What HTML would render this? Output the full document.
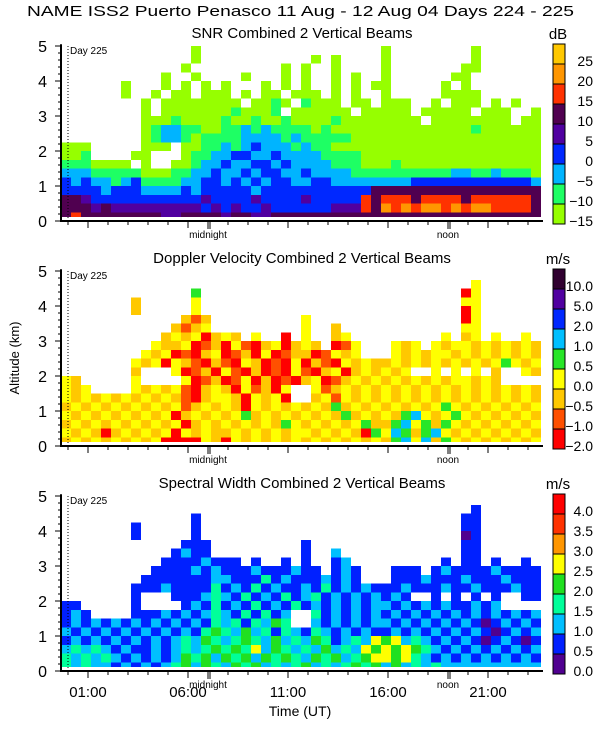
<!DOCTYPE html>
<html><head><meta charset="utf-8"><style>
html,body{margin:0;padding:0;background:#fff;width:600px;height:750px;overflow:hidden}
svg{display:block;font-family:"Liberation Sans",sans-serif}
</style></head><body>
<svg id="chart" width="600" height="750" viewBox="0 0 600 750" xmlns="http://www.w3.org/2000/svg">
<text x="27" y="16" font-size="15" textLength="547" lengthAdjust="spacingAndGlyphs">NAME ISS2 Puerto Penasco  11 Aug - 12 Aug 04 Days 224 - 225</text>
<text transform="translate(19,358) rotate(-90)" text-anchor="middle" font-size="13">Altitude (km)</text>
<text x="300" y="716" text-anchor="middle" font-size="14">Time (UT)</text>
<g id="panels"></g>
</svg>
<script>
// ---- data (rows listed from top altitude 4.75-5 km down to 0.15-0.25 km; 48 half-hour columns) ----
const panelTitles = ["SNR Combined 2 Vertical Beams","Doppler Velocity Combined 2 Vertical Beams","Spectral Width Combined 2 Vertical Beams"];
const panelUnits = ["dB","m/s","m/s"];
const snrTicks = ["25","20","15","10","5","0","-5","-10","-15"];
const dopTicks = ["10.0","5.0","2.0","1.0","0.5","0.0","-0.5","-1.0","-2.0"];
const swTicks = ["4.0","3.5","3.0","2.5","2.0","1.5","1.0","0.5","0.0"];
const snrColors = ["#96ff00","#1eff64","#00b4ff","#0028ff","#5000a0","#500050","#ff3200","#ff9600","#ffc800"];
const dopColors = ["#ff0000","#ff5000","#ffc800","#ffff00","#28e628","#00bfff","#0028ff","#5000a0","#300030"];
const swColors = ["#500090","#0020ff","#00bfff","#00ff9a","#20e020","#ffff00","#ff9600","#ff3200","#ff0000"];
const altTicks = [0,1,2,3,4,5];
const hourLabels = ["01:00","06:00","11:00","16:00","21:00"];
const hourLabelVals = [1,6,11,16,21];
const snrRows = [
"........ .....0.. ........ ........ 0....... .0......",
"........ .....0.. ........ .0.0.... 0....... .0......",
"........ ....0... ......0. 0..0.... 0....... 00......",
"........ ..0..0.. ..0...0. 0..0.0.. 0......0 0.......",
"......0. ..0.0.0. 0...0.0. 0..0.0.0 0.....0. 0.......",
"......0. .0.00.00 0.0.00.0 00.0.0.. 0.....00 00......",
"........ 0.000000 00.0010. 1000.00. 000..0.0 00.0.0..",
"........ 0.000000 010001.0 00000.00 000.0000 0.000..0",
"........ 00010000 10010010 00010000 0000.000 00000.00",
"........ 01221100 11212111 10100000 00000000 01000000",
"........ 01221011 11222212 11111000 00000000 00000000",
"000..... 000.0011 21232221 21100000 00000000 00000000",
"001....0 0...0112 23322322 22111100 00000000 00000000",
"1110000. 0..00122 32233232 22211100 01000000 00000000",
"22211111 00011223 22323322 32222111 11111112 21121110",
"32322123 11112233 23232332 23322222 22233333 33333332",
"33332333 22223233 33323333 33333335 55555555 55555555",
"55433333 33333343 33343333 43333365 66656666 56666665",
"55545444 44444434 34334333 33344465 76767767 67766665",
"56555555 55445555 45544555 55555555 55555555 55555555"];
const dopRows = [
"........ ........ ........ ........ ........ ........",
"........ ........ ........ ........ ........ .3......",
"........ .....4.. ........ ........ ........ 03......",
".......2 .....3.. ........ ........ ........ 33......",
".......2 .....3.. ........ ........ ........ 03......",
"........ ....212. ........ 3....... ........ 03......",
"........ ...2123. ........ 3..2.... ........ 33......",
"........ ..232302 32.3..0. 3..23... ......3. 23.3..3.",
"........ .3223012 03102302 32.013.. .323.323 32323232",
"........ 32301023 01203012 201323.. .3232332 32323232",
".......3 23032102 10320103 02103232 23232323 23234323",
".......2 ...30120 31020103 10230232 323..3.3 .3.2..32",
"32.....3 ....3012 01302010 23012323 23232323 3232....",
"323....3 23231023 2031203. .3123232 32323232 32323232",
"32323232 32321023 3203230. .2313232 32323232 32323232",
"23232323 23231232 32032323 23242323 23232343 23232323",
"32323232 32302323 23423232 32324232 32453234 32323232",
"23232323 23230232 32323243 23232342 24534243 23232323",
"32320232 32303232 23232323 32323204 35424532 32323232",
"23232323 23000032 03232323 23232323 24535243 23232323"];
const swRows = [
"........ ........ ........ ........ ........ ........",
"........ ........ ........ ........ ........ .1......",
"........ .....1.. ........ ........ ........ 11......",
".......1 .....1.. ........ ........ ........ 11......",
".......1 .....1.. ........ ........ ........ 01......",
"........ ....111. ........ 1....... ........ 11......",
"........ ...1211. ........ 1..2.... ........ 11......",
"........ ..111121 11.1..1. 1..12... ......1. 11.1..1.",
"........ .1111212 11121112 11.121.. .111.121 11121111",
"........ 11111112 21113121 112121.. .1112111 21112111",
".......1 11211113 12131211 21312121 11211121 12111211",
".......1 ...11123 21312131 23121212 121..1.1 .1.1..11",
"11.....1 ....1213 12131213 12121212 21212121 1212....",
"121....1 11212123 2131312. .3121212 12121212 12121212",
"12121212 12121213 2313243. .2121212 21212121 21012121",
"21212121 21212134 32423132 13212121 12121212 12101212",
"12121212 12123243 23432423 24312325 45232121 21012101",
"23232121 12123234 34352432 32423254 54543212 12121212",
"32323212 12124342 43424343 24342345 54532121 21212121",
"32322121 21234243 24342323 42323434 24232322 22222222"];

// ---- drawing ----
const NS = "http://www.w3.org/2000/svg";
const X0 = 61, X1 = 541, PXH = 20, DAY0 = 68, KM = 35, PANEL_DY = 225, BASE = 221;
function xOfHour(h){ return DAY0 + h*PXH; }
function yOfAlt(p, a){ return BASE + p*PANEL_DY - a*KM; }
function mk(tag, attrs, parent){ const e=document.createElementNS(NS,tag); for(const k in attrs) e.setAttribute(k,attrs[k]); parent.appendChild(e); return e; }
const root = document.getElementById('panels');
const allRows = [snrRows, dopRows, swRows];
const allColors = [snrColors, dopColors, swColors];
const allTicks = [snrTicks, dopTicks, swTicks];
const pnames = ["snr","doppler","spectral-width"];
const nRows = 20, rowKm = 0.25, colHours = 0.5, startHour = -0.35;

for(let p=0;p<3;p++){
  const g = mk('g',{},root);
  
  
  const t = mk('text',{x:302,y:38+p*PANEL_DY,'text-anchor':'middle','font-size':15},g);
  
  
  t.textContent = panelTitles[p];
  const u = mk('text',{x:558,y:39+p*PANEL_DY,'text-anchor':'middle','font-size':15},g);
  
  
  u.textContent = panelUnits[p];
  const hm = mk('g',{'shape-rendering':'crispEdges'},g);
  
  
  const rows = allRows[p].map(s=>s.replace(/ /g,''));
  for(let i=0;i<rows.length;i++){
    const r = nRows-1-i;
    const aLo = Math.max(0.12, r*rowKm), aHi = (r+1)*rowKm;
    const row = rows[i];
    for(let c=0;c<row.length;c++){
      const ch=row[c]; if(ch==='.') continue;
      const h0 = startHour + c*colHours;
      const xa = Math.max(X0, xOfHour(h0)), xb = Math.min(X1, xOfHour(h0+colHours));
      const ya = yOfAlt(p,aHi), yb = yOfAlt(p,aLo);
      const cell = mk('rect',{x:xa,y:ya,width:xb-xa,height:yb-ya,fill:allColors[p][+ch]},hm);
      
      
    }
  }
  const ya = mk('line',{x1:X0,y1:yOfAlt(p,5.05),x2:X0,y2:yOfAlt(p,0)+1,stroke:'#000','stroke-width':2},g);
  
  
  const xa = mk('line',{x1:X0,y1:yOfAlt(p,0),x2:X1+2,y2:yOfAlt(p,0),stroke:'#000','stroke-width':2},g);
  
  
  for(let k=0;k<=25;k++){
    const a=k*0.2, y=yOfAlt(p,a);
    mk('line',{x1:X0-(k%5===0?6:3),y1:y,x2:X0,y2:y,stroke:'#000','stroke-width':1},g);
  }
  altTicks.forEach(a=>{
    const tl = mk('text',{x:47,y:yOfAlt(p,a)+6,'text-anchor':'end','font-size':16},g);
    
    
    tl.textContent = String(a);
  });
  for(let h=0;h<=23;h++){
    const x=xOfHour(h), long=hourLabelVals.includes(h);
    mk('line',{x1:x,y1:yOfAlt(p,0),x2:x,y2:yOfAlt(p,0)+(long?7:4),stroke:'#000','stroke-width':1},g);
  }
  mk('line',{x1:DAY0,y1:yOfAlt(p,5),x2:DAY0,y2:yOfAlt(p,0),stroke:'#000','stroke-width':1,'stroke-dasharray':'1,2'},g);
  const dl = mk('text',{x:70,y:yOfAlt(p,5)+8,'font-size':10},g);
  
  
  dl.textContent = 'Day 225';
  [[7,'midnight'],[19,'noon']].forEach(([h,lab])=>{
    const x=xOfHour(h);
    mk('line',{x1:x,y1:yOfAlt(p,0),x2:x,y2:yOfAlt(p,0)+8,stroke:'#000','stroke-width':1},g);
    mk('line',{x1:x+2,y1:yOfAlt(p,0),x2:x+2,y2:yOfAlt(p,0)+8,stroke:'#000','stroke-width':1},g);
    const ml = mk('text',{x:x,y:yOfAlt(p,0)+17,'text-anchor':'middle','font-size':10},g);
    
    
    ml.textContent = lab;
  });
  const cb = mk('g',{'shape-rendering':'crispEdges'},g);
  
  
  const cbTop = 44 + p*PANEL_DY;
  for(let k=0;k<9;k++){
    const sw = mk('rect',{x:553,y:cbTop+k*20,width:12,height:20,fill:allColors[p][8-k],stroke:'#000','stroke-width':1},cb);
    
    
  }
  allTicks[p].forEach((lab,k)=>{
    const y = cbTop + (k+1)*20;
    const tl = mk('text',{x:593,y:y+2,'text-anchor':'end','font-size':14},g);
    
    
    tl.textContent = lab.replace('-','\u2212');
  });
}
hourLabels.forEach((lab,i)=>{
  const t = mk('text',{x:xOfHour(hourLabelVals[i]),y:697,'text-anchor':'middle','font-size':15},root);
  
  
  t.textContent = lab;
});
</script>
</body></html>
